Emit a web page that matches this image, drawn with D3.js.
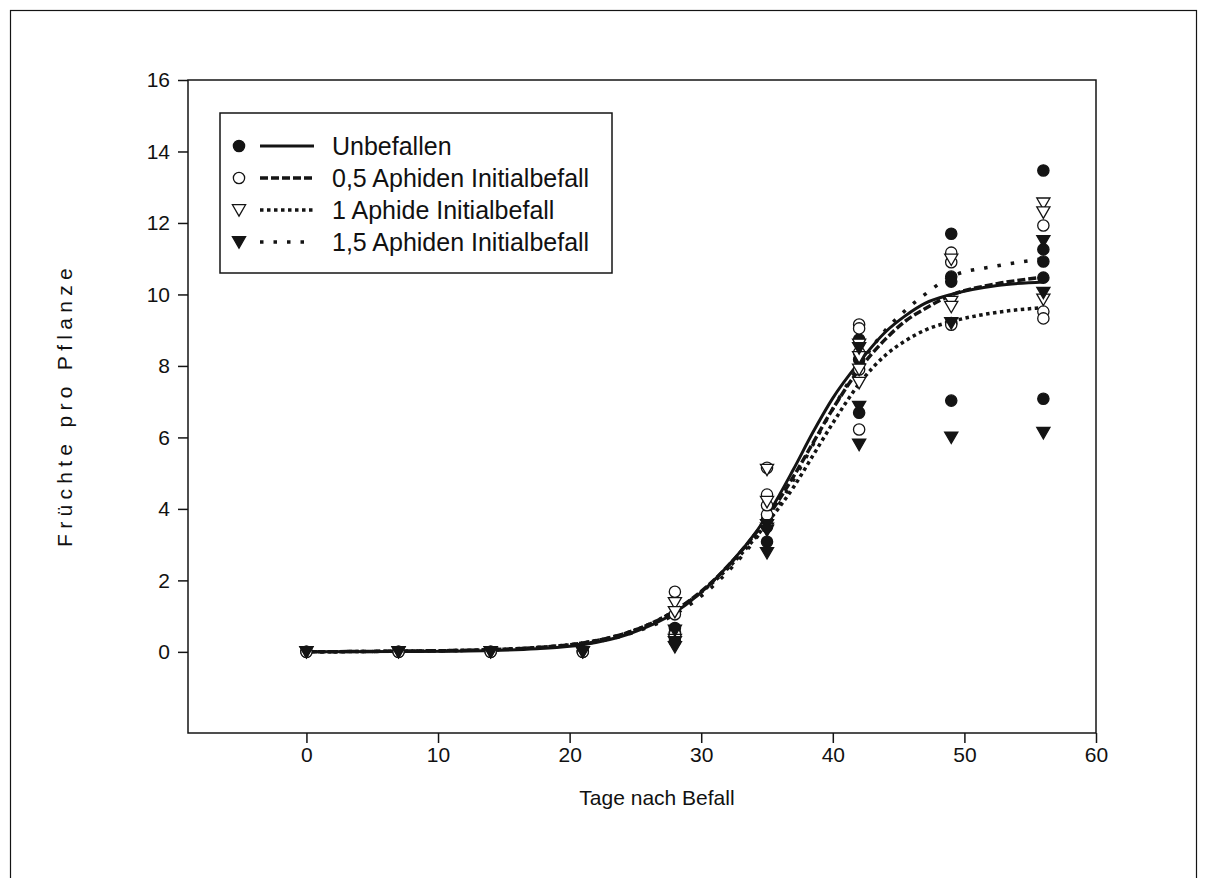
<!DOCTYPE html>
<html>
<head>
<meta charset="utf-8">
<script src="https://cdn.jsdelivr.net/npm/d3@7"></script>
<style>
  body { margin: 0; background: #fff; }
  text { font-family: "Liberation Sans", Arial, sans-serif; fill: #111; }
</style>
</head>
<body>
<svg id="chart"></svg>
<script>
const width = 1207;
const height = 878;

// observation days and measured fruits per plant (per treatment, per day)
const obsDays = [0, 7, 14, 21, 28, 35, 42, 49, 56];
const unbefallenObs = [[0], [0], [0], [0], [0.67, 0.53, 0.3], [3.5, 3.08, 3.7], [8.74, 8.18, 6.69], [11.7, 10.5, 10.36, 9.2, 7.03], [13.47, 11.26, 10.92, 10.47, 7.08]];
const aph05Obs = [[0], [0], [0], [0], [1.68, 1.05, 0.5], [5.15, 4.4, 3.84, 4.1], [9.16, 9.05, 8.37, 7.9, 6.22], [11.17, 10.9, 9.15], [11.93, 9.52, 9.33]];
const aph1Obs = [[0], [0], [0], [0], [1.37, 1.12, 0.34], [5.1, 4.2, 3.45], [8.6, 8.25, 7.9, 7.53], [10.98, 9.8, 9.66], [12.55, 12.3, 9.86]];
const aph15Obs = [[0], [0], [0], [0], [0.6, 0.28, 0.14], [3.55, 3.4, 2.77], [8.5, 6.86, 5.8], [9.2, 6.0], [11.5, 10.05, 6.13]];

// fitted curves
const curveDays = [0, 7, 14, 17.5, 21, 24.5, 28, 31.5, 35, 37, 38.5, 40, 42, 44, 45.5, 47, 49, 52.5, 56];
const unbefallenFit = [0, 0.01, 0.04, 0.09, 0.2, 0.5, 1.1, 2.2, 3.8, 5.1, 6.15, 7.1, 8.1, 8.95, 9.4, 9.75, 10.0, 10.25, 10.35];
const aph05Fit = [0, 0.02, 0.06, 0.12, 0.25, 0.55, 1.15, 2.2, 3.75, 4.9, 5.85, 6.8, 7.9, 8.75, 9.25, 9.6, 9.98, 10.3, 10.48];
const aph1Fit = [0, 0.02, 0.06, 0.12, 0.25, 0.55, 1.15, 2.15, 3.6, 4.6, 5.5, 6.4, 7.5, 8.3, 8.7, 9.0, 9.24, 9.5, 9.63];
const aph15Fit = [0, 0.02, 0.06, 0.12, 0.22, 0.5, 1.05, 2.05, 3.6, 4.8, 5.8, 6.8, 8.0, 9.0, 9.55, 10.0, 10.5, 10.8, 11.0];

const seriesNames = ['Unbefallen', '0,5 Aphiden Initialbefall', '1 Aphide Initialbefall', '1,5 Aphiden Initialbefall'];
const xTicks = [0, 10, 20, 30, 40, 50, 60];
const yTicks = [0, 2, 4, 6, 8, 10, 12, 14, 16];

const ink = '#141414';
const series = [
  {name: seriesNames[0], obs: unbefallenObs, fit: unbefallenFit, symbol: d3.symbolCircle, filled: true, rot: 0, dash: null},
  {name: seriesNames[1], obs: aph05Obs, fit: aph05Fit, symbol: d3.symbolCircle, filled: false, rot: 0, dash: '8,3'},
  {name: seriesNames[2], obs: aph1Obs, fit: aph1Fit, symbol: d3.symbolTriangle, filled: false, rot: 180, dash: '3.5,3.5'},
  {name: seriesNames[3], obs: aph15Obs, fit: aph15Fit, symbol: d3.symbolTriangle, filled: true, rot: 180, dash: '3.5,10'}
];

const svg = d3.select('#chart')
  .attr('width', width)
  .attr('height', height);

// outer page frame
svg.append('rect')
  .attr('x', 10.5).attr('y', 10.5)
  .attr('width', 1186).attr('height', 900)
  .attr('fill', 'none').attr('stroke', ink).attr('stroke-width', 1.2);

const plotLeft = 188, plotRight = 1096, plotTop = 80, plotBottom = 733;

const x = d3.scaleLinear().domain([-9, 60]).range([plotLeft, plotRight]);
const y = d3.scaleLinear().domain([-2.27, 16]).range([plotBottom, plotTop]);

// plot frame
svg.append('rect')
  .attr('x', plotLeft).attr('y', plotTop)
  .attr('width', plotRight - plotLeft).attr('height', plotBottom - plotTop)
  .attr('fill', 'none').attr('stroke', ink).attr('stroke-width', 1.5);

const xAxis = svg.append('g')
  .attr('transform', `translate(0, ${plotBottom})`)
  .call(d3.axisBottom(x).tickValues(xTicks).tickSize(10).tickPadding(4).tickFormat(d3.format('d')));
const yAxis = svg.append('g')
  .attr('transform', `translate(${plotLeft}, 0)`)
  .call(d3.axisLeft(y).tickValues(yTicks).tickSize(10).tickPadding(8).tickFormat(d3.format('d')));

[xAxis, yAxis].forEach(g => {
  g.select('.domain').remove();
  g.selectAll('line').attr('stroke', ink).attr('stroke-width', 1.5);
  g.selectAll('text').style('font-size', '21px').attr('fill', ink);
});

svg.append('text')
  .attr('x', 657).attr('y', 805)
  .attr('text-anchor', 'middle')
  .style('font-size', '21px')
  .text('Tage nach Befall');

svg.append('text')
  .attr('transform', 'translate(72, 405) rotate(-90)')
  .attr('text-anchor', 'middle')
  .style('font-size', '21px')
  .style('letter-spacing', '5.3px')
  .text('Früchte pro Pflanze');

// fitted curves
const line = d3.line()
  .x(d => x(d[0]))
  .y(d => y(d[1]))
  .curve(d3.curveMonotoneX);

series.forEach(s => {
  svg.append('path')
    .datum(curveDays.map((d, i) => [d, s.fit[i]]))
    .attr('fill', 'none')
    .attr('stroke', ink)
    .attr('stroke-width', s.dash ? 3.5 : 3)
    .attr('stroke-dasharray', s.dash)
    .attr('d', line);
});

// observations
function symbolPath(s) {
  return d3.symbol().type(s.symbol).size(s.symbol === d3.symbolCircle ? 100 : 75)();
}

series.forEach(s => {
  const pts = [];
  obsDays.forEach((d, i) => s.obs[i].forEach(v => pts.push([d, v])));
  svg.append('g')
    .selectAll('path')
    .data(pts)
    .enter()
    .append('path')
    .attr('d', symbolPath(s))
    .attr('transform', d => `translate(${x(d[0])}, ${y(d[1]) + (s.rot ? -1.5 : 0)}) rotate(${s.rot})`)
    .attr('fill', s.filled ? ink : '#fff')
    .attr('stroke', ink)
    .attr('stroke-width', 1.3);
});

// legend
const legend = svg.append('g');
legend.append('rect')
  .attr('x', 220).attr('y', 113)
  .attr('width', 392).attr('height', 160)
  .attr('fill', '#fff').attr('stroke', ink).attr('stroke-width', 1.5);

series.forEach((s, i) => {
  const ly = 146 + i * 32;
  legend.append('path')
    .attr('d', symbolPath(s))
    .attr('transform', `translate(239, ${ly + (s.rot ? -1.5 : 0)}) rotate(${s.rot})`)
    .attr('fill', s.filled ? ink : '#fff')
    .attr('stroke', ink)
    .attr('stroke-width', 1.3);
  legend.append('line')
    .attr('x1', 260).attr('x2', 314)
    .attr('y1', ly).attr('y2', ly)
    .attr('stroke', ink)
    .attr('stroke-width', s.dash ? 3.5 : 3)
    .attr('stroke-dasharray', s.dash);
  legend.append('text')
    .attr('x', 332).attr('y', ly)
    .attr('dy', '0.35em')
    .style('font-size', '25px')
    .text(s.name);
});
</script>
</body>
</html>
